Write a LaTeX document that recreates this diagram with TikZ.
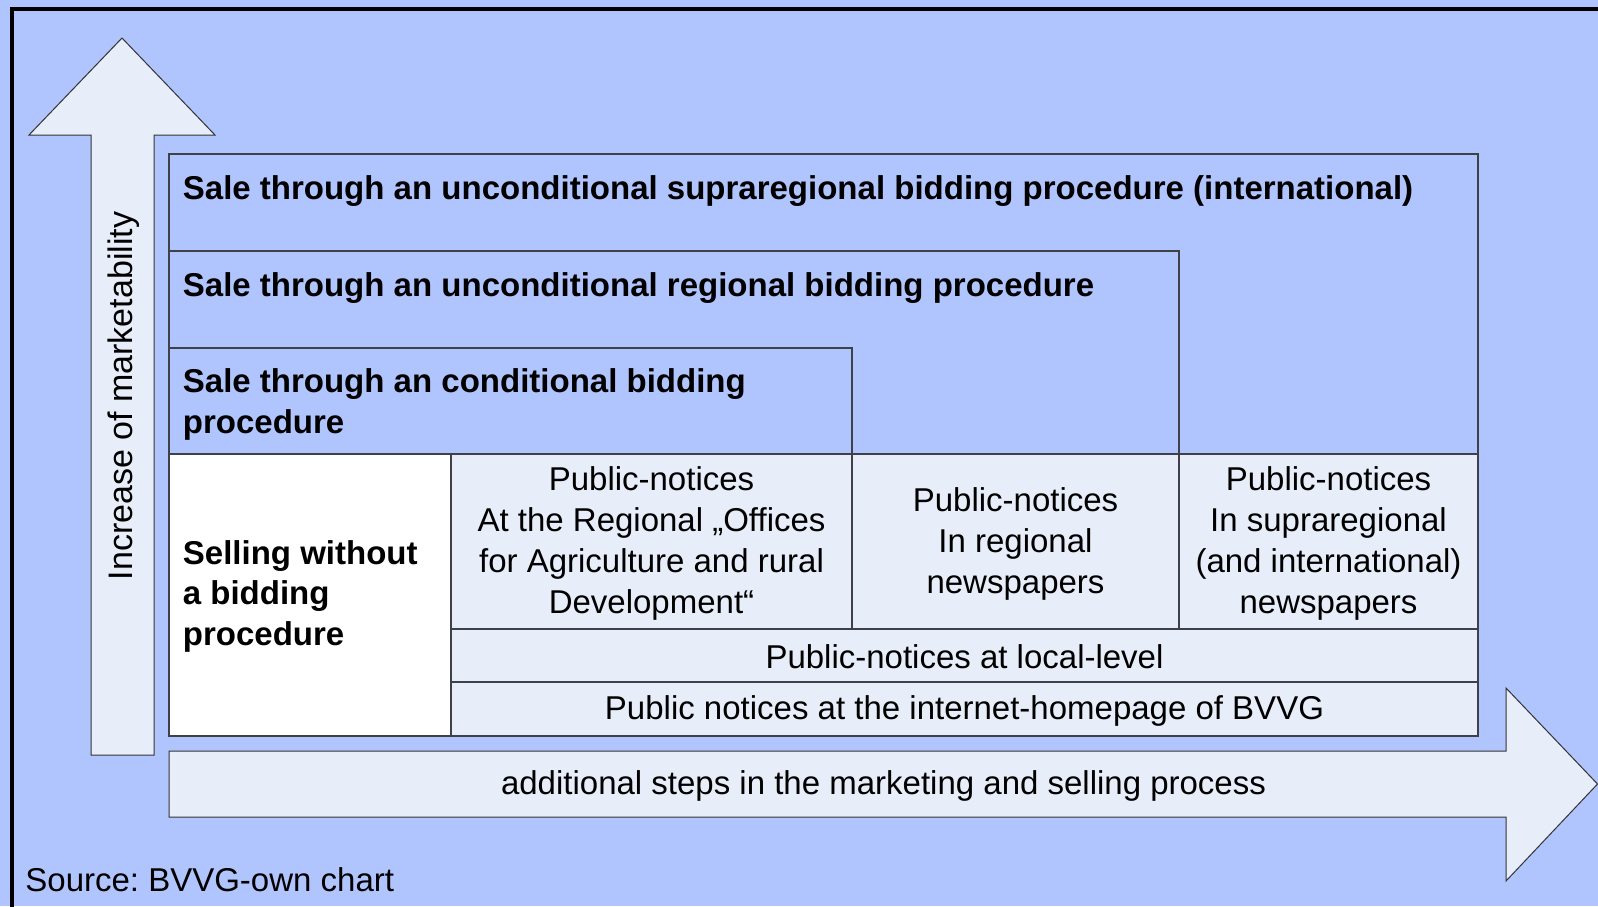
\documentclass[tikz,border=0pt]{standalone}
\usepackage{fontspec}
\setmainfont{Liberation Sans}
\definecolor{skyback}{RGB}{176,196,254}
\definecolor{cellfill}{RGB}{232,238,249}
\definecolor{linegray}{RGB}{64,64,72}
\frenchspacing
\begin{document}
\begin{tikzpicture}[x=0.5pt,y=-0.5pt,
  every node/.style={inner sep=0pt, font=\fontsize{16.5pt}{20.5pt}\selectfont},
  title/.style={font=\fontsize{16.5pt}{20.25pt}\selectfont\bfseries},
  band/.style={draw=linegray, fill=skyback, line width=0.6pt},
  cell/.style={draw=linegray, fill=cellfill, line width=0.6pt},
  plain/.style={draw=linegray, fill=white, line width=0.6pt},
  bigarrow/.style={draw=black!80, fill=cellfill, line width=0.5pt, line join=miter}]
\useasboundingbox (0,0) rectangle (1598,906);
\clip (0,0) rectangle (1598,906);
\fill[skyback] (0,0) rectangle (1598,906);
% outer frame
\draw[line width=2pt] (11.5,920) -- (11.5,9) -- (1620,9);

% axis arrows
\draw[bigarrow] (122,38) -- (215,135) -- (154,135) -- (154,755) -- (91,755) -- (91,135) -- (29,135) -- cycle;
\draw[bigarrow] (169,751) -- (1506,751) -- (1506,688) -- (1597.5,784) -- (1506,881) -- (1506,817) -- (169,817) -- cycle;

% procedure levels
\draw[band] (169,154) rectangle (1478,454);
\draw[band] (169,251) rectangle (1179,454);
\draw[band] (169,348) rectangle (852,454);

% publication channels
\draw[plain] (169,454) rectangle (451,736);
\draw[cell] (451,454) rectangle (852,629);
\draw[cell] (852,454) rectangle (1179,629);
\draw[cell] (1179,454) rectangle (1478,629);
\draw[cell] (451,629) rectangle (1478,682);
\draw[cell] (451,682) rectangle (1478,736);

% labels
\node[title, anchor=west] (t1) at (182.5,191.5) {Sale through an unconditional supraregional bidding procedure (international)};
\node[title, anchor=west] (t2) at (182.5,288.5) {Sale through an unconditional regional bidding procedure};
\node[title, anchor=west, align=left] (t3) at (182.5,404.5) {Sale through an conditional bidding\\procedure};
\node[title, anchor=west, align=left] (t4) at (182.5,596) {Selling without\\a bidding\\procedure};

\node[align=center] (c1) at (651.5,543.5) {Public-notices\\At the Regional „Offices\\for Agriculture and rural\\Development“};
\node[align=center] (c2) at (1015.5,543.5) {Public-notices\\In regional\\newspapers};
\node[align=center] (c3) at (1328.5,543.5) {Public-notices\\In supraregional\\(and international)\\newspapers};
\node (l1) at (964.5,656.5) {Public-notices at local-level};
\node (l2) at (964.5,711) {Public notices at the internet-homepage of BVVG};

\node (ah) at (883.5,786) {additional steps in the marketing and selling process};
\node[rotate=90, anchor=base, font=\fontsize{17pt}{20pt}\selectfont] (av) at (132.5,396) {Increase of marketability};
\node[anchor=base west] (src) at (25,891) {Source: BVVG-own chart};
\end{tikzpicture}
\end{document}
